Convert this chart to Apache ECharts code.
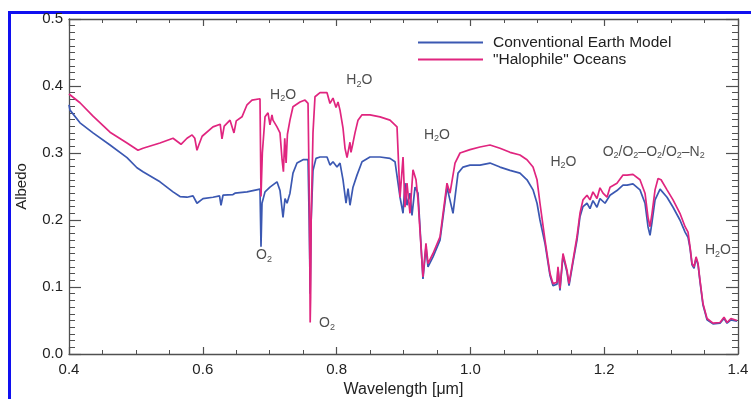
<!DOCTYPE html>
<html>
<head>
<meta charset="utf-8">
<script src="https://cdn.jsdelivr.net/npm/echarts@6/dist/echarts.min.js"></script>
<style>
html,body{margin:0;padding:0;background:#fff;}
#chart{width:751px;height:399px;}
</style>
</head>
<body>
<div id="chart"></div>
<script>
// ---- Data ----
var seriesNames = ['Conventional Earth Model', '"Halophile" Oceans'];

var conventionalWavelength = [0.400,0.4015,0.4164,0.4359,0.4613,0.4867,0.5016,0.5106,0.5360,0.5555,0.5659,0.5764,0.5854,0.5913,0.6003,0.6152,0.6250,0.6272,0.6302,0.6451,0.6481,0.6661,0.6855,0.6870,0.6885,0.6930,0.7004,0.7109,0.7154,0.7199,0.7229,0.7259,0.7303,0.7348,0.7408,0.7498,0.7573,0.7590,0.7605,0.7620,0.7647,0.7692,0.7752,0.7857,0.7901,0.7946,0.8006,0.8051,0.8096,0.8141,0.8171,0.8200,0.8245,0.8305,0.8380,0.8499,0.8649,0.8798,0.8873,0.8948,0.8993,0.9022,0.9052,0.9097,0.9127,0.9172,0.9217,0.9291,0.9336,0.9366,0.9441,0.9546,0.9650,0.9740,0.9815,0.9890,0.9994,1.0143,1.0293,1.0442,1.0592,1.0741,1.0846,1.0936,1.0996,1.1040,1.1115,1.1190,1.1235,1.1294,1.1309,1.1339,1.1384,1.1444,1.1474,1.1534,1.1593,1.1638,1.1683,1.1743,1.1788,1.1832,1.1892,1.1937,1.2012,1.2087,1.2191,1.2281,1.2341,1.2430,1.2535,1.2610,1.2655,1.2685,1.2715,1.2760,1.2835,1.2939,1.3029,1.3132,1.3209,1.3253,1.3283,1.3313,1.3343,1.3373,1.3403,1.3432,1.3477,1.3537,1.3626,1.3731,1.3791,1.3836,1.3895,1.3985];
var conventionalAlbedo = [0.372,0.364,0.345,0.330,0.312,0.293,0.278,0.272,0.257,0.242,0.235,0.234,0.236,0.225,0.232,0.234,0.236,0.222,0.237,0.238,0.240,0.242,0.246,0.160,0.225,0.242,0.249,0.257,0.244,0.204,0.232,0.225,0.240,0.270,0.285,0.290,0.290,0.200,0.090,0.200,0.274,0.292,0.294,0.294,0.282,0.287,0.279,0.285,0.260,0.225,0.247,0.222,0.249,0.267,0.287,0.294,0.294,0.292,0.287,0.234,0.210,0.255,0.222,0.240,0.207,0.249,0.240,0.112,0.160,0.130,0.145,0.170,0.249,0.210,0.270,0.279,0.282,0.282,0.285,0.279,0.274,0.270,0.260,0.245,0.225,0.200,0.165,0.117,0.102,0.104,0.127,0.095,0.147,0.122,0.102,0.137,0.170,0.205,0.220,0.225,0.217,0.229,0.219,0.232,0.225,0.237,0.244,0.252,0.252,0.254,0.245,0.225,0.190,0.177,0.197,0.230,0.246,0.234,0.219,0.200,0.182,0.174,0.158,0.133,0.128,0.143,0.133,0.108,0.073,0.051,0.045,0.046,0.053,0.046,0.051,0.049];

var halophileWavelength = [0.400,0.4164,0.4359,0.4613,0.4867,0.5031,0.5106,0.5360,0.5555,0.5674,0.5764,0.5840,0.5880,0.5913,0.5940,0.5990,0.6152,0.6260,0.6287,0.6320,0.6407,0.6466,0.6500,0.6586,0.6661,0.6735,0.6855,0.6870,0.6890,0.6930,0.6975,0.7004,0.7034,0.7049,0.7109,0.7154,0.7185,0.7205,0.7225,0.7245,0.7265,0.7303,0.7348,0.7453,0.7528,0.7573,0.7590,0.7600,0.7605,0.7612,0.7620,0.7647,0.7677,0.7752,0.7857,0.7901,0.7946,0.7991,0.8021,0.8051,0.8096,0.8126,0.8156,0.8200,0.8215,0.8245,0.8275,0.8320,0.8380,0.8499,0.8649,0.8798,0.8903,0.8948,0.8993,0.9022,0.9052,0.9097,0.9142,0.9187,0.9217,0.9291,0.9336,0.9366,0.9441,0.9546,0.9650,0.9695,0.9770,0.9845,0.9994,1.0143,1.0293,1.0442,1.0592,1.0741,1.0846,1.0936,1.0996,1.1040,1.1115,1.1190,1.1235,1.1294,1.1309,1.1339,1.1384,1.1444,1.1474,1.1534,1.1593,1.1638,1.1683,1.1743,1.1788,1.1832,1.1892,1.1937,1.1982,1.2042,1.2087,1.2191,1.2281,1.2341,1.2430,1.2535,1.2610,1.2655,1.2685,1.2715,1.2760,1.2805,1.2850,1.2939,1.3029,1.3132,1.3209,1.3253,1.3283,1.3313,1.3343,1.3373,1.3403,1.3432,1.3477,1.3537,1.3626,1.3731,1.3791,1.3836,1.3895,1.3985];
var halophileAlbedo = [0.388,0.375,0.355,0.331,0.315,0.304,0.307,0.315,0.322,0.313,0.322,0.327,0.322,0.304,0.312,0.325,0.339,0.343,0.321,0.340,0.349,0.330,0.348,0.354,0.372,0.379,0.381,0.235,0.300,0.354,0.360,0.342,0.357,0.349,0.339,0.330,0.290,0.272,0.322,0.285,0.328,0.349,0.369,0.376,0.379,0.374,0.250,0.140,0.047,0.085,0.200,0.330,0.384,0.390,0.390,0.374,0.382,0.368,0.376,0.364,0.337,0.307,0.293,0.316,0.301,0.315,0.330,0.349,0.357,0.357,0.354,0.349,0.339,0.234,0.294,0.219,0.255,0.210,0.275,0.260,0.230,0.115,0.165,0.135,0.150,0.175,0.255,0.240,0.285,0.300,0.305,0.309,0.312,0.307,0.301,0.297,0.290,0.279,0.260,0.225,0.170,0.120,0.105,0.107,0.130,0.098,0.150,0.125,0.105,0.140,0.175,0.210,0.230,0.237,0.230,0.242,0.232,0.248,0.240,0.234,0.249,0.255,0.267,0.267,0.268,0.260,0.240,0.204,0.190,0.210,0.245,0.262,0.260,0.245,0.230,0.210,0.190,0.182,0.160,0.135,0.130,0.145,0.135,0.110,0.075,0.053,0.046,0.047,0.055,0.047,0.053,0.050];

var annotationText = ['H2O','H2O','H2O','H2O','O2/O2\u2013O2/O2\u2013N2','H2O','O2','O2'];
var annotationX = [0.720,0.834,0.950,1.139,1.274,1.370,0.6915,0.7857];
var annotationY = [0.387,0.408,0.327,0.287,0.302,0.155,0.147,0.046];

// ---- Build ----
function pairs(xs, ys){ var out=[]; for(var i=0;i<xs.length;i++){ out.push([xs[i], ys[i]]); } return out; }
function richChem(t){ return t.replace(/2/g, '{s|2}'); }
var annData = [];
for (var i=0;i<annotationText.length;i++){ annData.push({value:[annotationX[i], annotationY[i]], name: annotationText[i]}); }

var axisCol = '#505050';
var txtCol = '#222';
var fontFam = '"Liberation Sans", Arial, Helvetica, sans-serif';

var chart = echarts.init(document.getElementById('chart'), null, {renderer:'canvas'});
var xCommon = {
  type:'value', min:0.4, max:1.4, interval:0.2,
  axisLine:{show:true, onZero:false, lineStyle:{color:axisCol, width:1.3}},
  axisTick:{show:true, inside:true, length:7, lineStyle:{color:axisCol, width:1.2}},
  minorTick:{show:true, splitNumber:4, length:4, lineStyle:{color:axisCol, width:1}},
  splitLine:{show:false}, minorSplitLine:{show:false}
};
var yCommon = {
  type:'value', min:0, max:0.5, interval:0.1,
  axisLine:{show:true, onZero:false, lineStyle:{color:axisCol, width:1.3}},
  axisTick:{show:true, inside:true, length:12, lineStyle:{color:axisCol, width:1.2}},
  minorTick:{show:true, splitNumber:10, length:6, lineStyle:{color:axisCol, width:1}},
  splitLine:{show:false}, minorSplitLine:{show:false}
};

var option = {
  backgroundColor:'#fff',
  animation:false,
  textStyle:{fontFamily:fontFam},
  grid:{left:69, right:13, top:19, bottom:45, containLabel:false, outerBoundsMode:'none'},
  graphic:[{type:'rect', silent:true, z:-1, zlevel:0, shape:{x:9.5, y:12.5, width:900, height:600}, style:{fill:'none', stroke:'#1010f0', lineWidth:3}}],
  legend:{
    show:true, orient:'vertical', left:418, top:34, padding:0, itemGap:0, itemWidth:65, itemHeight:2, icon:'rect',
    data:seriesNames,
    textStyle:{fontSize:15.5, color:txtCol, lineHeight:17, padding:[0,0,0,5], fontFamily:fontFam}
  },
  xAxis:[
    echarts.util.merge({position:'bottom', name:'Wavelength [\u03bcm]', nameLocation:'middle', nameGap:26,
      nameTextStyle:{fontSize:16, color:txtCol, fontFamily:fontFam},
      axisLabel:{show:true, margin:8, fontSize:15, color:txtCol, fontFamily:fontFam, formatter:function(v){return v.toFixed(1);}}}, xCommon, true),
    echarts.util.merge({position:'top', axisLabel:{show:false}}, xCommon, true)
  ],
  yAxis:[
    echarts.util.merge({position:'left', name:'Albedo', nameLocation:'middle', nameGap:40,
      nameTextStyle:{fontSize:15, color:txtCol, fontFamily:fontFam},
      axisLabel:{show:true, margin:6, fontSize:15, color:txtCol, fontFamily:fontFam, formatter:function(v){return v.toFixed(1);}}}, yCommon, true),
    echarts.util.merge({position:'right', axisLabel:{show:false}}, yCommon, true)
  ],
  series:[
    {name:seriesNames[0], type:'line', xAxisIndex:0, yAxisIndex:0, data:pairs(conventionalWavelength, conventionalAlbedo),
     showSymbol:false, symbol:'none', color:'#3b58b2', lineStyle:{color:'#3b58b2', width:1.7}, z:2},
    {name:seriesNames[1], type:'line', xAxisIndex:0, yAxisIndex:0, data:pairs(halophileWavelength, halophileAlbedo),
     showSymbol:false, symbol:'none', color:'#e0257f', lineStyle:{color:'#e0257f', width:1.7}, z:3},
    {name:'annotations', type:'scatter', xAxisIndex:0, yAxisIndex:0, data:annData, symbolSize:1,
     itemStyle:{color:'rgba(0,0,0,0)'}, silent:true, z:5,
     label:{show:true, position:'inside', color:txtCol, fontSize:14, fontFamily:fontFam, lineHeight:17,
       formatter:function(p){ return richChem(p.name); },
       rich:{s:{fontSize:9, lineHeight:9, verticalAlign:'bottom', color:txtCol, fontFamily:fontFam}}}}
  ]
};
chart.setOption(option);
</script>
</body>
</html>
